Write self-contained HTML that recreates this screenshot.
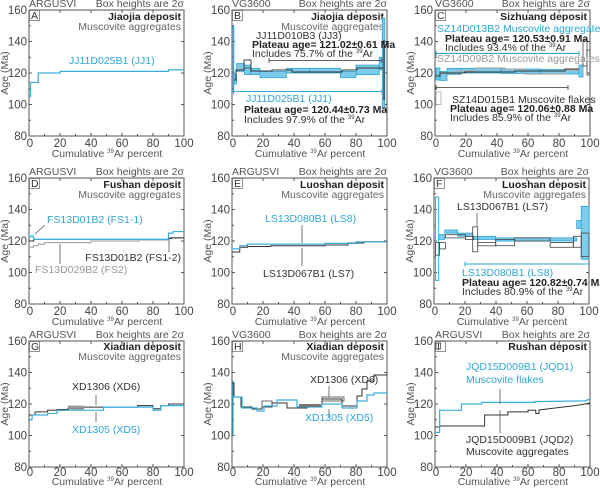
<!DOCTYPE html>
<html><head><meta charset="utf-8"><style>
html,body{margin:0;padding:0;background:#fff;}
svg{display:block;font-family:"Liberation Sans",sans-serif;}
.ax{fill:none;stroke:#555;stroke-width:1}
.tk{stroke:#555;stroke-width:1}
.tl{font-size:11.5px;fill:#444}
.xl{font-size:10.5px;fill:#555}
.sm{font-size:10.5px;fill:#333}
.b{font-weight:bold;fill:#222}
.g{fill:#666}
.c{fill:#2fa6d6}
.gr{fill:#999}
.cl{fill:none;stroke:#3aaedb;stroke-width:1.2}
.cf{fill:#7ccbea;stroke:#2fa6d6;stroke-width:0.8}
.kl{fill:none;stroke:#333;stroke-width:1}
.kb{fill:none;stroke:#444;stroke-width:0.8}
.gl{fill:none;stroke:#aaa;stroke-width:1.2}
.ld{stroke:#555;stroke-width:0.8}
</style></head><body>
<svg width="600" height="490" viewBox="0 0 600 490" xmlns="http://www.w3.org/2000/svg">
<defs>
<g id="frame">
<rect class="ax" x="0" y="0" width="155" height="126"/>
<path class="tk" d="M0,31.5h3M0,63h3M0,94.5h3M0,15.75h2M0,47.25h2M0,78.75h2M0,110.25h2M31,126v-3M62,126v-3M93,126v-3M124,126v-3M15.5,126v-2M46.5,126v-2M77.5,126v-2M108.5,126v-2M139.5,126v-2M155,31.5h-3M155,63h-3M155,94.5h-3M31,0v3M62,0v3M93,0v3M124,0v3"/>
<g class="tl" text-anchor="end"><text x="-2" y="4">160</text><text x="-2" y="35.5">140</text><text x="-2" y="67">120</text><text x="-2" y="98.5">100</text><text x="-2" y="130">80</text></g>
<text class="xl" transform="translate(-21,63) rotate(-90)" text-anchor="middle">Age (Ma)</text>
<text class="xl" x="155" y="-3" text-anchor="end">Box heights are 2σ</text>
<rect x="0.5" y="0.5" width="10" height="10" fill="#fff" stroke="#777" stroke-width="0.8"/>
</g>
<g id="axes">
<use href="#frame"/>
<g class="tl" text-anchor="middle"><text x="1" y="137">0</text><text x="31" y="137">20</text><text x="62" y="137">40</text><text x="93" y="137">60</text><text x="124" y="137">80</text><text x="155" y="137">100</text></g>
<text class="xl" x="78" y="147" text-anchor="middle">Cumulative <tspan font-size="6" dy="-4">39</tspan><tspan dy="4">Ar percent</tspan></text>
</g>
<g id="axes3">
<use href="#frame"/>
<g class="tl" text-anchor="middle"><text x="1" y="135">0</text><text x="31" y="135">20</text><text x="62" y="135">40</text><text x="93" y="135">60</text><text x="124" y="135">80</text><text x="155" y="135">100</text></g>
<text class="xl" x="78" y="144" text-anchor="middle">Cumulative <tspan font-size="6" dy="-4">39</tspan><tspan dy="4">Ar percent</tspan></text>
</g>
</defs>

<g transform="translate(29,10)">
<use href="#axes"/><text class="xl" x="0" y="-3">ARGUSVI</text><text class="sm" x="2" y="9">A</text>
<text class="sm b" x="152" y="10" text-anchor="end">Jiaojia deposit</text>
<text class="sm g" x="152" y="20" text-anchor="end">Muscovite aggregates</text>
<polyline class="cl" points="0,86.6 1.55,86.6 1.55,72.45 9.3,72.45 9.3,63 31,63 31,61.4 139.5,61.4 139.5,59.85 155,59.85"/>
<text class="sm c" x="40" y="54" font-size="11">JJ11D025B1 (JJ1)</text>
</g>

<g transform="translate(232,10)">
<use href="#axes"/><text class="xl" x="0" y="-3">VG3600</text><text class="sm" x="2" y="9">B</text>
<text class="sm b" x="152" y="10" text-anchor="end">Jiaojia deposit</text>
<text class="sm g" x="152" y="20" text-anchor="end">Muscovite aggregates</text>
<rect class="cf" x="1.5" y="64.6" width="3.1" height="9.4"/>
<rect class="cf" x="4.6" y="53.55" width="7.8" height="7.9"/>
<rect class="cf" x="12.4" y="55.1" width="6.2" height="9.5"/>
<rect class="cf" x="18.6" y="58.3" width="9.3" height="6.3"/>
<rect class="cf" x="27.9" y="61.4" width="26.4" height="6.3"/>
<rect class="cf" x="54.3" y="58.3" width="23.2" height="4.7"/>
<rect class="cf" x="77.5" y="58.3" width="31" height="4.7"/>
<rect class="cf" x="108.5" y="61.4" width="15.5" height="6.3"/>
<rect class="cf" x="124" y="55.1" width="23.2" height="9.5"/>
<rect class="cf" x="147.2" y="47.25" width="3.1" height="12.6"/>
<rect class="cf" x="150.3" y="8" width="2.5" height="90"/>
<line x1="1.5" y1="15" x2="1.5" y2="82" stroke="#2fa6d6" stroke-width="1.5"/>
<polyline class="kl" points="2,70 4,70 4,60 12,60 12,50 19,50 19,61 40,61 40,60 60,60 60,62 110,62 110,60 125,60 125,58 148,58 148,58 151,58"/>
<rect class="kb" x="12" y="50" width="7" height="8"/>
<line x1="152" y1="30" x2="152" y2="90" stroke="#333" stroke-width="1.2"/>
<text class="sm" x="24" y="29">JJ11D010B3 (JJ3)</text>
<text class="sm b" x="20" y="38">Plateau age= 121.02±0.61 Ma</text>
<text class="sm" x="20" y="47">Includes 75.7% of the <tspan font-size="6" dy="-4">39</tspan><tspan dy="4">Ar</tspan></text>
<path d="M37,50.5H150M37,48v5M150,48v5" stroke="#333" stroke-width="0.8"/>
<path d="M1.5,81.5H150M1.5,79v5M150,79v5" stroke="#2fa6d6" stroke-width="1"/>
<text class="sm c" x="14" y="92" font-size="11">JJ11D025B1 (JJ1)</text>
<text class="sm b" x="12" y="103">Plateau age= 120.44±0.73 Ma</text>
<text class="sm" x="12" y="113">Includes 97.9% of the <tspan font-size="6" dy="-4">39</tspan><tspan dy="4">Ar</tspan></text>
</g>

<g transform="translate(435,10)">
<use href="#axes"/><text class="xl" x="0" y="-3">VG3600</text><text class="sm" x="2" y="9">C</text>
<text class="sm b" x="152" y="10" text-anchor="end">Sizhuang deposit</text>
<rect x="1" y="81.9" width="5" height="12.6" fill="none" stroke="#aaa" stroke-width="0.8"/>
<rect class="cf" x="1" y="58" width="4" height="12"/>
<rect class="cf" x="5" y="61.4" width="7" height="9"/>
<rect class="cf" x="12" y="58.3" width="14" height="6"/>
<rect class="cf" x="26" y="58.3" width="40" height="4.7"/>
<rect class="cf" x="66" y="59" width="40" height="4.5"/>
<rect class="cf" x="106" y="59.5" width="38" height="4.5"/>
<rect class="cf" x="144" y="55" width="4" height="12"/>
<polyline class="gl" points="5,63 20,63 20,61 40,61 40,58 70,58 70,59 90,59 90,64 130,64 130,60 145,60"/>
<polyline class="kl" points="1,66 5,66 5,63 30,63 30,62 80,62 80,61 130,61 130,59 144,59"/>
<rect class="kb" x="148" y="30" width="4" height="26"/>
<rect class="kb" x="152" y="40" width="3" height="25"/>
<text class="sm c" x="2" y="22" font-size="10">SZ14D013B2 Muscovite aggregates</text>
<text class="sm b" x="10" y="32">Plateau age= 120.53±0.91 Ma</text>
<text class="sm" x="10" y="41">Includes 93.4% of the <tspan font-size="6" dy="-4">39</tspan><tspan dy="4">Ar</tspan></text>
<path d="M1,43.5H144M1,41v5M144,41v5" stroke="#2fa6d6" stroke-width="1"/>
<text class="sm gr" x="2" y="52" font-size="10">SZ14D09B2 Muscovite aggregates</text>
<path d="M1,77.5H133M1,75v5M133,75v5" stroke="#333" stroke-width="0.8"/>
<text class="sm" x="17" y="93">SZ14D015B1  Muscovite flakes</text>
<text class="sm b" x="15" y="102">Plateau age= 120.06±0.88 Ma</text>
<text class="sm" x="15" y="111">Includes 85.9% of the <tspan font-size="6" dy="-4">39</tspan><tspan dy="4">Ar</tspan></text>
</g>

<g transform="translate(29,178)">
<use href="#axes"/><text class="xl" x="0" y="-3">ARGUSVI</text><text class="sm" x="2" y="9">D</text>
<text class="sm b" x="152" y="10" text-anchor="end">Fushan deposit</text>
<text class="sm g" x="152" y="20" text-anchor="end">Muscovite aggregates</text>
<polyline class="gl" points="0,69.3 4.65,69.3 4.65,67.7 9.3,67.7 9.3,66.15 15.5,66.15 15.5,64.6 62,64.6 62,63 110,63 110,62 139.5,62 139.5,59.85 155,59.85"/>
<polyline class="kl" points="0,63 4.65,63 4.65,61.4 139.5,61.4 139.5,60.5 142.6,60.5 142.6,59.85 155,59.85"/>
<polyline class="cl" points="0,58.3 4.65,58.3 4.65,61.4 139.5,61.4 139.5,55.1 144.15,55.1 144.15,53.55 155,53.55"/>
<rect x="0" y="56.7" width="4.65" height="3.2" fill="#7ccbea" opacity="0.7"/>
<path class="ld" d="M6,56L16,47M31,66V86M140,60V74"/>
<text class="sm c" x="18" y="45" font-size="11">FS13D01B2 (FS1-1)</text>
<text class="sm" x="152" y="83" text-anchor="end" font-size="11">FS13D01B2 (FS1-2)</text>
<text class="sm gr" x="6" y="95" font-size="11">FS13D029B2 (FS2)</text>
</g>

<g transform="translate(232,178)">
<use href="#axes"/><text class="xl" x="0" y="-3">ARGUSVI</text><text class="sm" x="2" y="9">E</text>
<text class="sm b" x="152" y="10" text-anchor="end">Luoshan deposit</text>
<text class="sm g" x="152" y="20" text-anchor="end">Muscovite aggregates</text>
<polyline class="kl" points="0,74 7.75,74 7.75,69.3 15.5,69.3 15.5,68.5 38.75,68.5 38.75,67.7 93,67.7 93,67 116,67 116,65 131.75,65 131.75,63.8 155,63.8"/>
<polyline class="cl" points="0,70.9 7.75,70.9 7.75,67.7 15.5,67.7 15.5,66.15 93,66.15 93,65.4 124,65.4 124,63.8 155,63.8"/>
<path class="ld" d="M70,47V65M70,70V88"/>
<text class="sm c" x="33" y="44" font-size="11">LS13D080B1 (LS8)</text>
<text class="sm" x="31" y="99" font-size="11">LS13D067B1 (LS7)</text>
</g>

<g transform="translate(434,178)">
<use href="#axes"/><text class="xl" x="0" y="-3">VG3600</text><text class="sm" x="2" y="9">F</text>
<text class="sm b" x="152" y="10" text-anchor="end">Luoshan deposit</text>
<text class="sm g" x="152" y="20" text-anchor="end">Muscovite aggregates</text>
<rect x="1.5" y="18.9" width="3.2" height="83.5" fill="none" stroke="#3aaedb" stroke-width="1"/>
<rect class="cf" x="4.7" y="56.7" width="6" height="4.7"/>
<rect class="cf" x="10.7" y="52" width="13" height="3.2"/>
<rect class="cf" x="23.7" y="55.1" width="15" height="3.2"/>
<rect class="cf" x="38.7" y="58.3" width="23" height="3.2"/>
<rect class="cf" x="61.7" y="59.85" width="54" height="3.2"/>
<rect class="cf" x="115.7" y="59.85" width="27" height="3.2"/>
<rect class="cf" x="142.7" y="42.5" width="4.5" height="8"/>
<rect class="cf" x="147.2" y="28.35" width="7.8" height="53"/>
<rect class="kb" x="1.5" y="64.6" width="4" height="12.6"/>
<rect class="kb" x="5.5" y="64.6" width="6" height="6.3"/>
<rect class="kb" x="11.5" y="56.7" width="20" height="3.2"/>
<rect class="kb" x="31.5" y="58.3" width="8" height="3.2"/>
<rect class="kb" x="38.7" y="48.8" width="5" height="25"/>
<rect class="kb" x="43.7" y="64.6" width="18" height="3.2"/>
<rect class="kb" x="61.7" y="61.4" width="19" height="6.3"/>
<rect class="kb" x="80.6" y="59.85" width="35.6" height="3.2"/>
<rect class="kb" x="116.2" y="64.6" width="23" height="4.7"/>
<rect class="kb" x="139.5" y="58.3" width="7.7" height="11"/>
<rect class="kb" x="147.2" y="55.1" width="7.8" height="23.6"/>
<path class="ld" d="M43,35V48"/>
<text class="sm" x="23" y="32" font-size="11">LS13D067B1 (LS7)</text>
<path d="M31,86H155M31,83.5v5" stroke="#2fa6d6" stroke-width="1"/>
<text class="sm c" x="28" y="98" font-size="11">LS13D080B1 (LS8)</text>
<text class="sm b" x="28" y="108">Plateau age= 120.82±0.74 Ma</text>
<text class="sm" x="28" y="117">Includes 80.9% of the <tspan font-size="6" dy="-4">39</tspan><tspan dy="4">Ar</tspan></text>
</g>

<g transform="translate(29,341)">
<use href="#axes3"/><text class="xl" x="0" y="-3">ARGUSVI</text><text class="sm" x="2" y="9">G</text>
<text class="sm b" x="152" y="9" text-anchor="end">Xiadian deposit</text>
<text class="sm g" x="152" y="19" text-anchor="end">Muscovite aggregates</text>
<polyline class="kl" points="0,74 6,74 6,70.9 18.6,70.9 18.6,69.3 27.9,69.3 27.9,68.5 38.75,68.5 38.75,67.7 54.25,67.7 54.25,66.15 108.5,66.15 108.5,64.6 124,64.6 124,67.7 131.75,67.7 131.75,64.6 139.5,64.6 139.5,63 155,63"/>
<rect x="38.75" y="64.6" width="16" height="3.2" fill="#999"/>
<polyline class="cl" points="0,78.75 3.1,78.75 3.1,74 18.6,74 18.6,72.45 27.9,72.45 27.9,69.3 74.4,69.3 74.4,66.15 124,66.15 124,69.3 131.75,69.3 131.75,64.6 155,64.6"/>
<path class="ld" d="M67,54V64M67,71V81"/>
<text class="sm" x="43" y="49" font-size="11">XD1306 (XD6)</text>
<text class="sm c" x="43" y="92" font-size="11">XD1305 (XD5)</text>
</g>

<g transform="translate(232,341)">
<use href="#axes3"/><text class="xl" x="0" y="-3">VG3600</text><text class="sm" x="2" y="9">H</text>
<text class="sm b" x="152" y="9" text-anchor="end">Xiadian deposit</text>
<text class="sm g" x="152" y="19" text-anchor="end">Muscovite aggregates</text>
<line x1="1" y1="40" x2="1" y2="95" stroke="#2fa6d6" stroke-width="1.2"/>
<polyline class="kl" points="0,42 2,42 2,56 9,56 9,66 20,66 20,68 30,68 30,66 40,66 40,62 55,62 55,67 75,67 75,66 90,66 90,58 110,58 110,65 125,65 125,55 130,55 130,48 135,48 135,40 142,40 142,34 155,34"/>
<rect class="kb" x="30" y="60" width="10" height="6"/>
<rect class="kb" x="90" y="56" width="22" height="4"/>
<polyline class="cl" points="0,56 10,56 10,67 25,67 25,70 32,70 32,65 45,65 45,59 65,59 65,66 90,66 90,63 110,63 110,67 125,67 125,60 135,60 135,54 142,54 142,52 155,52"/>
<rect x="67" y="63" width="22" height="3" fill="#777"/>
<path class="ld" d="M97,45V56M97,68V76"/>
<text class="sm" x="78" y="42" font-size="11">XD1306 (XD6)</text>
<text class="sm c" x="73" y="80" font-size="11">XD1305 (XD5)</text>
</g>

<g transform="translate(435,341)">
<use href="#axes3"/><text class="xl" x="0" y="-3">ARGUSVI</text><text class="sm" x="2" y="9">I</text>
<text class="sm b" x="152" y="9" text-anchor="end">Rushan deposit</text>
<rect class="kb" x="1" y="2" width="4.65" height="6"/>
<polyline class="kl" points="0,86 4.65,86 4.65,85.05 49.6,85.05 49.6,74 72.85,74 72.85,70.9 93,70.9 93,69.3 100.75,69.3 100.75,72.45 104,72.45 104,69 120,67 140,64.6 150,63 155,62"/>
<polyline class="cl" points="0,91.35 4.65,91.35 4.65,69.3 26.35,69.3 26.35,63 46.5,63 46.5,61.4 100,61.4 100,60.6 150,59.85 155,58"/>
<path class="ld" d="M65,48V63M65,69V92"/>
<text class="sm c" x="31" y="29" font-size="11">JQD15D009B1 (JQD1)</text>
<text class="sm c" x="31" y="42" font-size="11">Muscovite flakes</text>
<text class="sm" x="31" y="102" font-size="11">JQD15D009B1 (JQD2)</text>
<text class="sm" x="31" y="114" font-size="11">Muscovite aggregates</text>
</g>
</svg>
</body></html>
